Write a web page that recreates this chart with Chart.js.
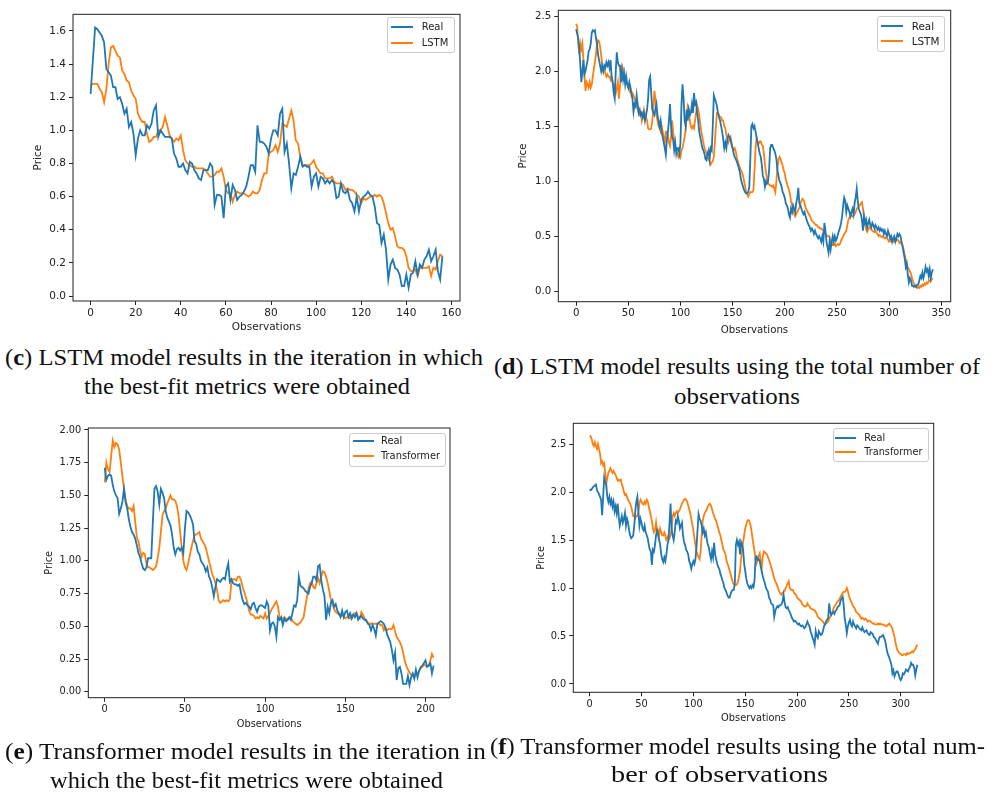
<!DOCTYPE html>
<html>
<head>
<meta charset="utf-8">
<script src="https://cdn.jsdelivr.net/npm/chart.js@4.4.1/dist/chart.umd.min.js"></script>
<style>
  html, body { margin:0; padding:0; background:#fff; }
  body { width:994px; height:796px; position:relative; overflow:hidden; }
  canvas { position:absolute; }
  .leg { position:absolute; border:1px solid #cccccc; border-radius:3px; background:rgba(255,255,255,0.85); box-sizing:border-box; }
  .legline { position:absolute; height:2px; }
  .legtxt { position:absolute; font-family:"DejaVu Sans", sans-serif; color:#222; white-space:nowrap; }
  .cap { position:absolute; font-family:"Liberation Serif", "Times New Roman", serif; font-size:22.5px; line-height:22.5px; color:#111; white-space:nowrap; transform-origin:0 0; display:inline-block; }
</style>
</head>
<body>
<canvas id="cc"></canvas>
<canvas id="cd"></canvas>
<canvas id="ce"></canvas>
<canvas id="cf"></canvas>

<div class="cap" data-x="5" data-y="347" data-w="478">(<b>c</b>) LSTM model results in the iteration in which</div>
<div class="cap" data-x="84" data-y="376" data-w="326">the best-fit metrics were obtained</div>
<div class="cap" data-x="494" data-y="356" data-w="486">(<b>d</b>) LSTM model results using the total number of</div>
<div class="cap" data-x="674" data-y="386" data-w="126">observations</div>
<div class="cap" data-x="5" data-y="741" data-w="481">(<b>e</b>) Transformer model results in the iteration in</div>
<div class="cap" data-x="50" data-y="770" data-w="393">which the best-fit metrics were obtained</div>
<div class="cap" data-x="490" data-y="736" data-w="495">(<b>f</b>) Transformer model results using the total num-</div>
<div class="cap" data-x="611" data-y="764" data-w="217">ber of observations</div>

<script>
// ---------------- DATA ----------------
const seriesReal = 'Real';
const modelLSTM = 'LSTM';
const modelTransformer = 'Transformer';

const cXTicks = ['0','20','40','60','80','100','120','140','160'];
const cYTicks = ['0.0','0.2','0.4','0.6','0.8','1.0','1.2','1.4','1.6'];
const dXTicks = ['0','50','100','150','200','250','300','350'];
const dYTicks = ['0.0','0.5','1.0','1.5','2.0','2.5'];
const eXTicks = ['0','50','100','150','200'];
const eYTicks = ['0.00','0.25','0.50','0.75','1.00','1.25','1.50','1.75','2.00'];
const fXTicks = ['0','50','100','150','200','250','300'];
const fYTicks = ['0.0','0.5','1.0','1.5','2.0','2.5'];

const cReal = [
1.22,1.42,1.62,1.61,1.59,1.57,1.53,1.37,1.35,1.33,
1.26,1.26,1.19,1.20,1.16,1.10,1.13,1.02,1.05,0.98,
0.85,0.95,1.00,0.97,0.97,1.03,1.01,1.04,1.12,1.15,
0.96,1.00,0.98,0.96,0.96,0.96,0.95,0.86,0.83,0.78,
0.78,0.80,0.76,0.74,0.81,0.80,0.76,0.74,0.71,0.70,
0.76,0.76,0.76,0.80,0.78,0.55,0.61,0.61,0.60,0.47,
0.66,0.68,0.58,0.67,0.64,0.58,0.60,0.61,0.63,0.66,
0.72,0.79,0.79,0.75,1.03,0.93,0.93,0.92,0.90,0.86,
0.95,1.00,1.00,0.97,1.10,1.13,0.87,0.92,0.80,0.65,
0.74,0.73,0.78,0.84,0.78,0.79,0.78,0.78,0.66,0.72,
0.74,0.66,0.72,0.71,0.68,0.70,0.68,0.70,0.68,0.59,
0.60,0.68,0.63,0.62,0.64,0.58,0.56,0.51,0.60,0.51,
0.58,0.60,0.61,0.63,0.61,0.60,0.54,0.44,0.43,0.32,
0.37,0.28,0.10,0.19,0.22,0.17,0.16,0.13,0.06,0.06,
0.13,0.05,0.13,0.14,0.21,0.13,0.19,0.17,0.22,0.24,
0.28,0.21,0.24,0.28,0.15,0.10,0.24];

const cLSTM = [
1.27,1.28,1.28,1.28,1.25,1.23,1.17,1.25,1.40,1.50,
1.51,1.48,1.45,1.44,1.36,1.34,1.30,1.29,1.24,1.21,
1.19,1.10,1.07,1.05,1.05,0.98,0.93,0.94,0.96,0.96,
1.00,1.00,1.02,1.08,1.03,0.97,0.95,0.93,0.95,0.94,
0.97,0.88,0.82,0.80,0.79,0.78,0.78,0.77,0.77,0.77,
0.77,0.76,0.74,0.72,0.72,0.73,0.75,0.75,0.77,0.72,
0.64,0.62,0.62,0.57,0.61,0.63,0.62,0.62,0.62,0.61,
0.60,0.61,0.63,0.62,0.62,0.64,0.70,0.74,0.74,0.86,
0.87,0.88,0.91,0.87,0.92,1.04,1.03,1.02,1.07,1.12,
1.06,0.94,0.92,0.84,0.79,0.79,0.79,0.79,0.80,0.82,
0.78,0.76,0.74,0.74,0.71,0.71,0.71,0.72,0.69,0.68,
0.68,0.68,0.67,0.64,0.65,0.64,0.64,0.63,0.61,0.60,
0.56,0.59,0.58,0.59,0.60,0.60,0.61,0.60,0.61,0.60,
0.56,0.50,0.44,0.40,0.41,0.36,0.30,0.29,0.29,0.28,
0.24,0.17,0.15,0.15,0.16,0.12,0.17,0.17,0.17,0.17,
0.18,0.12,0.17,0.16,0.21,0.25,0.24];

const dReal = [
2.38,2.34,2.30,2.21,2.05,1.90,2.00,2.10,1.97,2.00,
2.05,2.10,2.18,2.20,2.25,2.35,2.37,2.36,2.37,2.30,
2.25,2.15,2.10,2.05,2.00,2.05,2.00,2.05,2.03,2.08,
2.05,2.08,2.03,2.10,1.95,1.90,1.80,1.75,2.00,2.17,
2.08,2.05,2.05,1.90,2.00,1.92,1.98,1.88,1.95,1.88,
1.85,1.90,1.85,1.80,1.75,1.63,1.70,1.68,1.78,1.70,
1.62,1.65,1.60,1.62,1.58,1.62,1.55,1.60,1.65,1.75,
1.92,1.95,1.80,1.65,1.62,1.60,1.65,1.70,1.60,1.55,
1.50,1.55,1.45,1.40,1.35,1.30,1.24,1.38,1.45,1.55,
1.70,1.50,1.40,1.38,1.28,1.35,1.25,1.30,1.30,1.25,
1.35,1.70,1.88,1.75,1.55,1.50,1.65,1.55,1.65,1.60,
1.62,1.70,1.62,1.80,1.70,1.72,1.62,1.55,1.45,1.40,
1.35,1.30,1.28,1.25,1.20,1.19,1.25,1.28,1.20,1.30,
1.28,1.50,1.78,1.75,1.72,1.68,1.62,1.58,1.55,1.50,
1.45,1.38,1.30,1.35,1.30,1.38,1.42,1.40,1.38,1.33,
1.30,1.25,1.22,1.20,1.18,1.15,1.12,1.08,1.02,0.98,
0.95,0.92,0.90,0.89,0.89,0.90,0.95,1.20,1.50,1.52,
1.48,1.50,1.45,1.40,1.35,1.30,1.25,1.22,1.15,1.05,
1.02,0.95,1.00,0.98,1.00,1.10,1.30,1.33,1.33,1.30,
1.28,1.25,1.20,1.10,1.05,1.00,0.98,0.95,0.90,0.88,
0.85,0.80,0.78,0.75,0.70,0.67,0.75,0.72,0.78,0.75,
0.72,0.80,0.85,0.94,0.80,0.78,0.75,0.72,0.70,0.72,
0.68,0.65,0.62,0.60,0.58,0.55,0.57,0.55,0.52,0.55,
0.52,0.50,0.48,0.50,0.48,0.45,0.50,0.45,0.62,0.55,
0.45,0.40,0.35,0.45,0.38,0.45,0.50,0.45,0.50,0.46,
0.48,0.52,0.55,0.58,0.62,0.68,0.78,0.85,0.82,0.72,
0.78,0.75,0.72,0.68,0.72,0.75,0.70,0.80,0.85,0.93,
0.82,0.75,0.72,0.70,0.65,0.55,0.68,0.62,0.65,0.58,
0.62,0.65,0.60,0.58,0.62,0.60,0.57,0.60,0.58,0.56,
0.58,0.55,0.57,0.55,0.56,0.52,0.55,0.52,0.50,0.55,
0.52,0.48,0.50,0.45,0.48,0.50,0.45,0.48,0.52,0.50,
0.52,0.50,0.45,0.40,0.35,0.30,0.22,0.25,0.15,0.08,
0.12,0.10,0.05,0.05,0.04,0.05,0.04,0.06,0.06,0.10,
0.14,0.12,0.17,0.12,0.16,0.22,0.18,0.20,0.14,0.20,
0.12,0.17,0.20];

const dLSTM = [
2.43,2.40,2.25,2.15,2.25,2.20,2.25,2.10,1.95,1.82,
1.90,1.88,1.85,1.90,1.85,1.88,1.95,2.02,2.08,2.15,
2.25,2.28,2.27,2.22,2.15,2.05,2.00,2.02,1.98,1.95,
1.97,1.95,1.95,1.92,1.95,1.90,1.88,1.85,1.80,1.85,
1.90,1.75,1.85,2.00,2.05,2.02,1.98,1.95,1.90,1.88,
1.85,1.82,1.85,1.78,1.80,1.78,1.75,1.72,1.70,1.65,
1.62,1.60,1.62,1.55,1.60,1.65,1.60,1.58,1.55,1.48,
1.47,1.47,1.48,1.55,1.65,1.82,1.75,1.60,1.55,1.50,
1.48,1.45,1.50,1.45,1.40,1.35,1.45,1.45,1.42,1.35,
1.32,1.40,1.55,1.45,1.38,1.30,1.28,1.25,1.22,1.25,
1.22,1.28,1.30,1.35,1.40,1.48,1.58,1.68,1.65,1.55,
1.50,1.48,1.50,1.48,1.55,1.62,1.69,1.65,1.60,1.52,
1.45,1.40,1.35,1.30,1.28,1.25,1.22,1.20,1.18,1.15,
1.17,1.18,1.22,1.35,1.50,1.62,1.62,1.60,1.58,1.58,
1.55,1.55,1.50,1.48,1.42,1.38,1.35,1.38,1.40,1.35,
1.30,1.28,1.30,1.27,1.22,1.18,1.15,1.12,1.10,1.08,
1.05,1.00,0.95,0.90,0.88,0.86,0.88,0.90,0.90,0.90,
0.92,1.10,1.30,1.39,1.35,1.34,1.36,1.36,1.33,1.32,
1.25,1.15,1.08,1.02,0.98,0.97,0.96,0.96,0.95,0.96,
0.93,0.90,1.00,1.12,1.20,1.22,1.20,1.17,1.14,1.10,
1.07,1.02,0.98,0.95,0.92,0.88,0.82,0.78,0.72,0.70,
0.68,0.70,0.72,0.74,0.76,0.80,0.82,0.84,0.83,0.80,
0.76,0.74,0.72,0.70,0.69,0.66,0.64,0.63,0.62,0.61,
0.60,0.60,0.58,0.58,0.57,0.57,0.56,0.55,0.53,0.52,
0.51,0.50,0.50,0.49,0.46,0.44,0.42,0.42,0.43,0.41,
0.42,0.43,0.42,0.43,0.46,0.48,0.50,0.52,0.53,0.55,
0.60,0.65,0.67,0.68,0.69,0.68,0.69,0.70,0.72,0.75,
0.76,0.78,0.78,0.80,0.81,0.75,0.68,0.62,0.56,0.54,
0.56,0.58,0.57,0.56,0.55,0.54,0.54,0.55,0.53,0.52,
0.50,0.51,0.50,0.49,0.50,0.49,0.48,0.49,0.48,0.47,
0.45,0.46,0.45,0.46,0.45,0.46,0.45,0.46,0.47,0.46,
0.44,0.45,0.43,0.42,0.38,0.33,0.29,0.25,0.22,0.20,
0.18,0.16,0.12,0.09,0.07,0.05,0.04,0.03,0.04,0.03,
0.05,0.04,0.06,0.05,0.07,0.06,0.08,0.07,0.09,0.10,
0.09,0.11,0.12];

const eReal = [
1.71,1.62,1.65,1.66,1.65,1.58,1.53,1.50,1.48,1.36,
1.40,1.45,1.55,1.45,1.40,1.32,1.26,1.22,1.20,1.17,
1.12,1.06,1.03,0.98,0.94,0.93,0.95,1.02,1.02,1.02,
1.30,1.55,1.57,1.53,1.43,1.55,1.52,1.48,1.38,1.33,
1.30,1.27,1.20,1.10,1.05,1.09,1.10,1.08,1.10,1.06,
1.25,1.38,1.37,1.35,1.32,1.28,1.15,1.13,1.07,1.05,
1.00,0.98,0.96,0.92,0.95,0.88,0.85,0.80,0.73,0.80,
0.86,0.85,0.84,0.86,0.87,0.86,0.93,0.98,0.84,0.86,
0.83,0.82,0.82,0.81,0.82,0.75,0.70,0.67,0.68,0.66,
0.65,0.63,0.67,0.68,0.64,0.61,0.65,0.66,0.66,0.65,
0.64,0.69,0.66,0.47,0.52,0.53,0.50,0.42,0.57,0.55,
0.57,0.51,0.56,0.54,0.55,0.57,0.55,0.60,0.66,0.65,
0.70,0.88,0.81,0.80,0.79,0.77,0.76,0.75,0.80,0.83,
0.88,0.88,0.85,0.96,0.97,0.85,0.78,0.73,0.55,0.65,
0.60,0.68,0.70,0.65,0.67,0.62,0.60,0.57,0.62,0.57,
0.61,0.62,0.57,0.60,0.56,0.59,0.57,0.60,0.55,0.57,
0.58,0.56,0.55,0.55,0.52,0.51,0.47,0.51,0.48,0.43,
0.52,0.53,0.54,0.53,0.52,0.49,0.44,0.41,0.38,0.32,
0.24,0.30,0.09,0.18,0.19,0.14,0.06,0.06,0.06,0.12,
0.05,0.11,0.14,0.10,0.17,0.11,0.16,0.19,0.20,0.22,
0.24,0.19,0.20,0.22,0.14,0.20];

const eTransformer = [
1.60,1.75,1.70,1.68,1.80,1.92,1.87,1.90,1.89,1.85,
1.75,1.65,1.55,1.47,1.42,1.40,1.40,1.38,1.42,1.30,
1.18,1.15,1.08,1.03,1.06,1.05,0.98,0.95,0.95,0.94,
0.93,0.94,0.96,1.02,1.10,1.22,1.35,1.38,1.40,1.44,
1.47,1.50,1.47,1.47,1.46,1.42,1.35,1.22,1.10,1.00,
0.95,0.93,0.98,1.04,1.10,1.15,1.20,1.20,1.21,1.22,
1.17,1.15,1.13,1.10,1.05,1.00,0.95,0.90,0.87,0.83,
0.78,0.70,0.68,0.69,0.70,0.69,0.70,0.69,0.71,0.84,
0.86,0.86,0.85,0.88,0.88,0.85,0.80,0.76,0.72,0.68,
0.62,0.59,0.59,0.58,0.56,0.57,0.56,0.58,0.57,0.56,
0.60,0.56,0.58,0.60,0.63,0.65,0.67,0.69,0.65,0.57,
0.55,0.56,0.57,0.56,0.55,0.56,0.57,0.54,0.53,0.52,
0.51,0.52,0.53,0.55,0.57,0.65,0.72,0.79,0.83,0.84,
0.80,0.79,0.83,0.87,0.83,0.88,0.92,0.91,0.88,0.83,
0.77,0.70,0.67,0.63,0.61,0.60,0.59,0.58,0.58,0.58,
0.56,0.57,0.57,0.56,0.58,0.59,0.60,0.60,0.57,0.56,
0.61,0.59,0.56,0.54,0.53,0.52,0.52,0.52,0.52,0.52,
0.52,0.52,0.51,0.51,0.47,0.49,0.47,0.48,0.48,0.48,
0.51,0.46,0.42,0.40,0.38,0.35,0.30,0.24,0.20,0.17,
0.15,0.13,0.12,0.11,0.14,0.14,0.16,0.18,0.19,0.21,
0.20,0.20,0.20,0.24,0.29,0.26];

const fReal = [
2.03,2.02,2.03,2.05,2.06,2.07,2.08,2.02,2.00,1.98,
1.95,1.92,1.76,1.95,2.15,2.10,2.08,1.95,1.90,1.95,
1.88,1.92,1.85,1.90,1.80,1.85,1.78,1.88,1.75,1.65,
1.70,1.75,1.68,1.72,1.78,1.65,1.72,1.68,1.60,1.55,
1.52,1.53,1.55,1.65,1.80,1.90,1.95,1.80,1.65,1.72,
1.68,1.62,1.60,1.65,1.58,1.55,1.52,1.45,1.40,1.38,
1.24,1.40,1.38,1.45,1.55,1.60,1.55,1.50,1.45,1.35,
1.30,1.27,1.32,1.28,1.35,1.45,1.50,1.68,1.88,1.62,
1.55,1.50,1.58,1.70,1.68,1.75,1.70,1.62,1.65,1.68,
1.55,1.48,1.45,1.40,1.38,1.35,1.28,1.25,1.20,1.25,
1.28,1.25,1.30,1.42,1.60,1.77,1.72,1.70,1.65,1.58,
1.62,1.55,1.58,1.50,1.45,1.42,1.35,1.30,1.38,1.32,
1.47,1.35,1.30,1.25,1.22,1.20,1.15,1.12,1.08,1.05,
1.00,0.98,0.95,0.92,0.90,0.90,0.94,0.97,0.98,0.98,
1.05,1.45,1.50,1.45,1.48,1.35,1.48,1.45,1.40,1.25,
1.18,1.10,1.05,1.02,1.00,1.02,1.00,1.03,1.01,1.08,
1.32,1.33,1.29,1.30,1.28,1.22,1.17,1.12,1.08,1.05,
1.00,0.98,0.96,0.90,0.88,0.84,0.83,0.82,0.70,0.76,
0.79,0.81,0.80,0.82,0.82,0.83,0.86,0.93,0.85,0.80,
0.79,0.80,0.77,0.75,0.72,0.69,0.67,0.65,0.66,0.65,
0.63,0.62,0.63,0.61,0.60,0.61,0.60,0.58,0.59,0.62,
0.65,0.62,0.60,0.55,0.52,0.48,0.45,0.41,0.55,0.50,
0.48,0.55,0.53,0.51,0.52,0.55,0.60,0.62,0.65,0.67,
0.68,0.84,0.75,0.72,0.74,0.75,0.73,0.76,0.77,0.80,
0.81,0.82,0.87,0.89,0.91,0.82,0.68,0.62,0.53,0.60,
0.64,0.67,0.62,0.60,0.65,0.62,0.60,0.58,0.61,0.60,
0.58,0.57,0.56,0.59,0.56,0.54,0.55,0.56,0.53,0.52,
0.51,0.54,0.53,0.52,0.49,0.48,0.46,0.44,0.42,0.47,
0.49,0.49,0.50,0.51,0.48,0.45,0.39,0.33,0.30,0.27,
0.24,0.20,0.11,0.14,0.08,0.11,0.13,0.13,0.10,0.06,
0.04,0.06,0.11,0.10,0.12,0.15,0.14,0.13,0.16,0.18,
0.22,0.20,0.20,0.17,0.09,0.15,0.20];

const fTransformer = [
2.59,2.58,2.55,2.50,2.48,2.52,2.48,2.45,2.50,2.45,
2.40,2.30,2.32,2.28,2.30,2.20,2.08,2.15,2.20,2.22,
2.25,2.22,2.20,2.22,2.20,2.18,2.15,2.12,2.13,2.12,
2.13,2.08,2.05,2.00,1.97,1.98,1.95,1.92,1.90,1.88,
1.85,1.80,1.75,1.75,1.73,1.75,1.75,1.80,1.88,1.92,
1.90,1.88,1.87,1.90,1.88,1.92,1.90,1.85,1.80,1.75,
1.70,1.62,1.58,1.60,1.68,1.58,1.60,1.55,1.62,1.58,
1.55,1.55,1.58,1.55,1.50,1.52,1.55,1.52,1.55,1.62,
1.75,1.78,1.75,1.78,1.80,1.78,1.80,1.82,1.85,1.88,
1.90,1.92,1.93,1.92,1.90,1.86,1.82,1.78,1.72,1.66,
1.60,1.52,1.45,1.38,1.35,1.32,1.30,1.38,1.55,1.70,
1.75,1.78,1.80,1.82,1.85,1.87,1.88,1.86,1.82,1.78,
1.75,1.72,1.70,1.66,1.62,1.58,1.55,1.50,1.45,1.40,
1.38,1.35,1.28,1.25,1.22,1.18,1.14,1.10,1.06,1.04,
1.03,1.03,1.04,1.06,1.12,1.18,1.30,1.40,1.48,1.55,
1.62,1.66,1.70,1.71,1.70,1.66,1.60,1.52,1.45,1.38,
1.30,1.26,1.31,1.33,1.36,1.28,1.22,1.33,1.38,1.37,
1.36,1.35,1.32,1.29,1.26,1.22,1.18,1.14,1.10,1.07,
1.05,1.02,0.99,0.96,0.94,0.93,0.95,0.96,0.97,1.00,
1.02,1.05,1.07,1.00,0.98,0.98,0.98,0.95,0.94,0.93,
0.90,0.89,0.88,0.87,0.86,0.83,0.82,0.81,0.81,0.81,
0.84,0.82,0.81,0.79,0.78,0.78,0.77,0.77,0.75,0.73,
0.70,0.69,0.68,0.67,0.66,0.65,0.63,0.63,0.63,0.64,
0.65,0.68,0.70,0.72,0.75,0.78,0.81,0.82,0.84,0.86,
0.87,0.88,0.91,0.93,0.95,0.96,0.96,0.97,1.00,0.97,
0.92,0.89,0.86,0.84,0.81,0.80,0.78,0.75,0.74,0.73,
0.72,0.70,0.68,0.69,0.68,0.67,0.68,0.67,0.65,0.66,
0.66,0.65,0.64,0.63,0.63,0.62,0.62,0.62,0.63,0.62,
0.63,0.62,0.62,0.62,0.61,0.61,0.60,0.61,0.62,0.63,
0.61,0.60,0.57,0.53,0.49,0.43,0.38,0.35,0.33,0.32,
0.31,0.30,0.30,0.31,0.31,0.30,0.32,0.31,0.32,0.32,
0.33,0.34,0.33,0.35,0.36,0.39,0.41];

// ---------------- LAYOUT / STYLE ----------------
const BLUE = '#1f77b4', ORANGE = '#ff7f0e', INK = '#222222';

const panels = [
  { canvas:'cc', real:cReal, model:cLSTM, modelName:modelLSTM, xTicks:cXTicks, yTicks:cYTicks,
    xr:[-7.8,163.8], yr:[-0.03,1.70],
    box:{x:25,y:5,w:450,h:335}, plot:{l:73,t:13,r:460,b:301}, fs:10.5, yTitleX:38.7, xTitleY:327.5,
    leg:{x:387,y:17,w:68,h:36,rows:[27,43],lx:391,lw:22,tx:421.7,fs:10} },
  { canvas:'cd', real:dReal, model:dLSTM, modelName:modelLSTM, xTicks:dXTicks, yTicks:dYTicks,
    xr:[-17.1,359.1], yr:[-0.095,2.552],
    box:{x:505,y:0,w:460,h:345}, plot:{l:558.3,t:10.3,r:950.7,b:301.7}, fs:10.2, yTitleX:523, xTitleY:330,
    leg:{x:877,y:16,w:68,h:36,rows:[26,41],lx:881,lw:22,tx:911.7,fs:10.4} },
  { canvas:'ce', real:eReal, model:eTransformer, modelName:modelTransformer, xTicks:eXTicks, yTicks:eYTicks,
    xr:[-10.25,215.25], yr:[-0.045,2.015],
    box:{x:30,y:415,w:435,h:325}, plot:{l:88.3,t:428,r:450,b:697.7}, fs:9.8, yTitleX:49.5, xTitleY:724,
    leg:{x:349,y:433,w:97,h:34,rows:[441,456],lx:353,lw:21,tx:381,fs:9.85} },
  { canvas:'cf', real:fReal, model:fTransformer, modelName:modelTransformer, xTicks:fXTicks, yTicks:fYTicks,
    xr:[-15.8,331.8], yr:[-0.087,2.717],
    box:{x:520,y:410,w:430,h:325}, plot:{l:573.3,t:423.3,r:933.7,b:692.3}, fs:9.8, yTitleX:541, xTitleY:718.3,
    leg:{x:833,y:428,w:96,h:34,rows:[438,452],lx:835,lw:21,tx:864.3,fs:9.7} }
];

const framePlugin = {
  id:'frame',
  afterDraw(chart){
    const {ctx, chartArea:a} = chart;
    ctx.save();
    ctx.strokeStyle = INK; ctx.lineWidth = 1;
    ctx.strokeRect(a.left, a.top, a.right-a.left, a.bottom-a.top);
    ctx.restore();
  }
};

function tickSetter(labels){
  return function(scale){ scale.ticks = labels.map(l => ({value: parseFloat(l)})); };
}

panels.forEach(p => {
  const cv = document.getElementById(p.canvas);
  cv.width = p.box.w; cv.height = p.box.h;
  cv.style.left = p.box.x + 'px'; cv.style.top = p.box.y + 'px';
  cv.style.width = p.box.w + 'px'; cv.style.height = p.box.h + 'px';
  const lh = p.fs * 1.2;
  const font = {family:'"DejaVu Sans", sans-serif', size:p.fs};
  const yWidth = p.plot.l - p.box.x;
  const xHeight = p.box.y + p.box.h - p.plot.b;
  const chart = new Chart(cv.getContext('2d'), {
    type:'line',
    data:{ datasets:[
      { label:seriesReal, data:p.real.map((y,i)=>({x:i,y})), borderColor:BLUE, backgroundColor:BLUE,
        borderWidth:1.8, pointRadius:0, tension:0, fill:false },
      { label:p.modelName, data:p.model.map((y,i)=>({x:i,y})), borderColor:ORANGE, backgroundColor:ORANGE,
        borderWidth:1.8, pointRadius:0, tension:0, fill:false }
    ]},
    options:{
      responsive:false, animation:false, devicePixelRatio:1,
      layout:{ padding:{ top:p.plot.t - p.box.y, right:p.box.x + p.box.w - p.plot.r, left:0, bottom:0 } },
      plugins:{ legend:{display:false}, tooltip:{enabled:false} },
      scales:{
        x:{ type:'linear', min:p.xr[0], max:p.xr[1],
            afterBuildTicks: tickSetter(p.xTicks),
            afterFit: s => { s.height = xHeight; },
            ticks:{ callback:(v,i)=>p.xTicks[i], font, color:INK, padding:2, maxRotation:0, autoSkip:false },
            grid:{ drawOnChartArea:false, drawTicks:true, tickLength:4, color:INK, tickWidth:1 },
            border:{ display:false },
            title:{ display:true, text:'Observations', font, color:INK,
                    padding:{top:0, bottom:(p.box.y + p.box.h - p.xTitleY) - lh/2} } },
        y:{ type:'linear', min:p.yr[0], max:p.yr[1],
            afterBuildTicks: tickSetter(p.yTicks),
            afterFit: s => { s.width = yWidth; },
            ticks:{ callback:(v,i)=>p.yTicks[i], font, color:INK, padding:3, autoSkip:false },
            grid:{ drawOnChartArea:false, drawTicks:true, tickLength:4, color:INK, tickWidth:1 },
            border:{ display:false },
            title:{ display:true, text:'Price', font, color:INK,
                    padding:{top:(p.yTitleX - p.box.x) - lh/2, bottom:0} } }
      }
    },
    plugins:[framePlugin]
  });

  // legend (matplotlib-style, upper right inside the axes)
  const L = p.leg;
  const box = document.createElement('div');
  box.className = 'leg';
  Object.assign(box.style, {left:L.x+'px', top:L.y+'px', width:L.w+'px', height:L.h+'px'});
  document.body.appendChild(box);
  chart.data.datasets.forEach((ds, k) => {
    const ry = L.rows[k];
    const ln = document.createElement('div');
    ln.className = 'legline';
    Object.assign(ln.style, {left:L.lx+'px', top:(ry-1)+'px', width:L.lw+'px', background:ds.borderColor});
    document.body.appendChild(ln);
    const tx = document.createElement('div');
    tx.className = 'legtxt';
    tx.textContent = ds.label;
    Object.assign(tx.style, {left:L.tx+'px', top:(ry - L.fs*0.62)+'px', fontSize:L.fs+'px', lineHeight:(L.fs*1.2)+'px'});
    document.body.appendChild(tx);
  });
});

// captions: fit each line to its measured width in the reference
document.querySelectorAll('.cap').forEach(el => {
  el.style.left = el.dataset.x + 'px';
  el.style.top = el.dataset.y + 'px';
  const w = el.getBoundingClientRect().width;
  const target = parseFloat(el.dataset.w);
  el.style.transform = 'scaleX(' + (target / w) + ')';
});
</script>
</body>
</html>
